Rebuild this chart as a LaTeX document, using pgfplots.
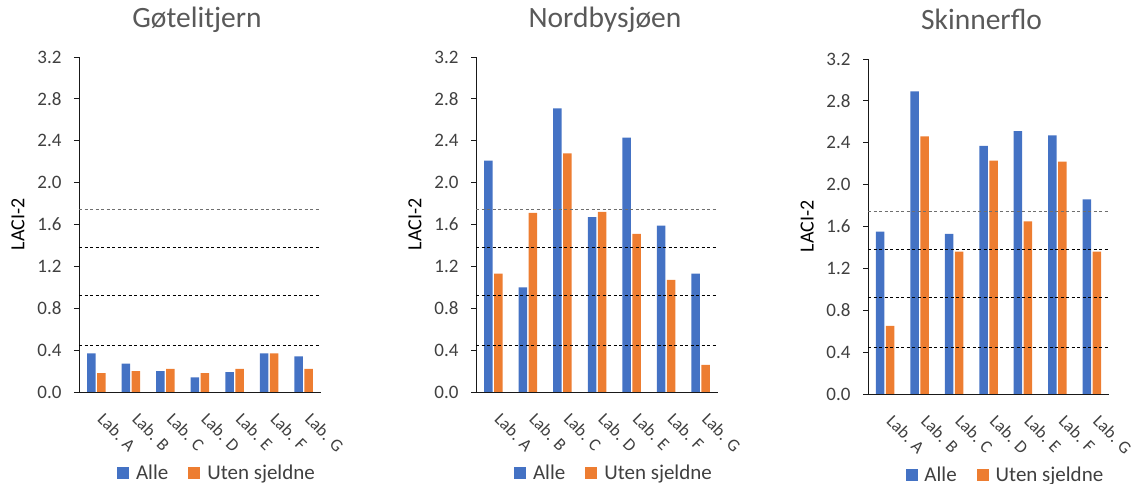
\documentclass[border=0pt]{standalone}
\usepackage{fontspec}
\setmainfont{Carlito}
\usepackage{pgfplots}
\pgfplotsset{compat=1.18}
\definecolor{cblue}{HTML}{4472C4}
\definecolor{corange}{HTML}{ED7D31}
\definecolor{ctext}{HTML}{404040}
\definecolor{ctitle}{HTML}{595959}
\definecolor{cgrid}{HTML}{6F6F6F}

\pgfplotsset{
  laci/.style={
    scale only axis, width=242bp, height=335bp,
    anchor=south west,
    xmin=-0.5, xmax=6.5, ymin=0, ymax=3.2,
    axis x line*=bottom, axis y line*=left,
    axis line style={black!90, line width=0.8bp, -},
    ytick={0,0.4,0.8,1.2,1.6,2.0,2.4,2.8,3.2},
    /pgf/number format/assume math mode=true,
    yticklabel style={/pgf/number format/fixed, /pgf/number format/fixed zerofill, /pgf/number format/precision=1,
      font=\fontsize{19bp}{22bp}\selectfont, text=ctext, xshift=-9bp},
    xtick={0,1,2,3,4,5,6},
    xticklabels={Lab. A,Lab. B,Lab. C,Lab. D,Lab. E,Lab. F,Lab. G},
    xticklabel style={yshift=-10bp, xshift=9bp, rotate=-45, anchor=north west, font=\fontsize{17.5bp}{20bp}\selectfont, text=ctext},
    xtick style={draw=none},
    ytick style={black!90, line width=0.8bp},
    tick align=outside, major tick length=5bp,
    ylabel={LACI-2},
    ylabel style={at={(axis description cs:-0.252,0.5)}, anchor=center, font=\fontsize{20bp}{24bp}\selectfont, text=black},
    title style={at={(axis description cs:0.5,1)}, anchor=base, yshift=24bp, font=\fontsize{29.5bp}{34bp}\selectfont, text=ctitle},
    legend columns=2,
    legend style={draw=none, fill=none, at={(rel axis cs:0.57,-0.242)}, anchor=center,
      font=\fontsize{21bp}{25bp}\selectfont, text=ctext,
      /tikz/every odd column/.append style={column sep=5bp},
      /tikz/every even column/.append style={column sep=18bp}},
  },
  alle/.style={ybar, bar width=8.5bp, bar shift=-5bp, fill=cblue, draw=none,
    legend image code/.code={\fill[cblue] (0bp,-6bp) rectangle (12bp,6bp);}},
  uten/.style={ybar, bar width=8.5bp, bar shift=5bp, fill=corange, draw=none,
    legend image code/.code={\fill[corange] (0bp,-6bp) rectangle (12bp,6bp);}},
  dl/.style={forget plot, black, line width=0.9bp, dash pattern=on 3bp off 2.5bp},
  dlg/.style={forget plot, cgrid, line width=1bp, dash pattern=on 3bp off 2.5bp},
}

\begin{document}
\begin{tikzpicture}
\useasboundingbox (0,0) rectangle (1131bp,484bp);

\begin{axis}[laci, at={(79bp,92bp)}, title={Gøtelitjern}, title style={xshift=-3bp}]
\addplot[alle] coordinates {(0,0.37) (1,0.27) (2,0.20) (3,0.14) (4,0.19) (5,0.37) (6,0.34)};
\addplot[uten] coordinates {(0,0.18) (1,0.20) (2,0.22) (3,0.18) (4,0.22) (5,0.37) (6,0.22)};
\legend{Alle, Uten sjeldne}
\addplot[dlg] coordinates {(-0.5,1.74) (6.5,1.74)};
\addplot[dl] coordinates {(-0.5,1.38) (6.5,1.38)};
\addplot[dl] coordinates {(-0.5,0.92) (6.5,0.92)};
\addplot[dl] coordinates {(-0.5,0.445) (6.5,0.445)};
\end{axis}

\begin{axis}[laci, at={(476bp,92bp)}, title={Nordbysjøen}, title style={xshift=8bp}]
\addplot[alle] coordinates {(0,2.21) (1,1.00) (2,2.71) (3,1.67) (4,2.43) (5,1.59) (6,1.13)};
\addplot[uten] coordinates {(0,1.13) (1,1.71) (2,2.28) (3,1.72) (4,1.51) (5,1.07) (6,0.26)};
\legend{Alle, Uten sjeldne}
\addplot[dlg] coordinates {(-0.5,1.74) (6.5,1.74)};
\addplot[dl] coordinates {(-0.5,1.38) (6.5,1.38)};
\addplot[dl] coordinates {(-0.5,0.92) (6.5,0.92)};
\addplot[dl] coordinates {(-0.5,0.445) (6.5,0.445)};
\end{axis}

\begin{axis}[laci, width=241bp, at={(868bp,90bp)}, title={Skinnerflo}, title style={xshift=-7bp}]
\addplot[alle] coordinates {(0,1.55) (1,2.89) (2,1.53) (3,2.37) (4,2.51) (5,2.47) (6,1.86)};
\addplot[uten] coordinates {(0,0.65) (1,2.46) (2,1.36) (3,2.23) (4,1.65) (5,2.22) (6,1.36)};
\legend{Alle, Uten sjeldne}
\addplot[dlg] coordinates {(-0.5,1.74) (6.5,1.74)};
\addplot[dl] coordinates {(-0.5,1.38) (6.5,1.38)};
\addplot[dl] coordinates {(-0.5,0.92) (6.5,0.92)};
\addplot[dl] coordinates {(-0.5,0.445) (6.5,0.445)};
\end{axis}
\end{tikzpicture}
\end{document}
